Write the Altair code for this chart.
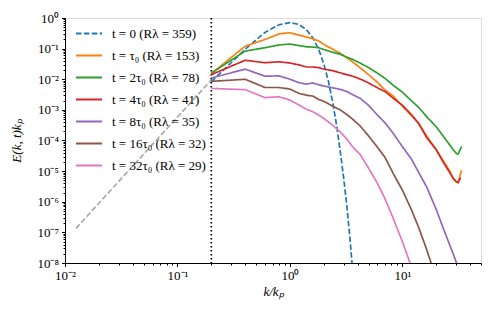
import altair as alt
import pandas as pd

# ---- data (log10 of E(k,t)k_p) ----
labels = [
    "t = 0 (Rλ = 359)",
    "t = τ₀ (Rλ = 153)",
    "t = 2τ₀ (Rλ = 78)",
    "t = 4τ₀ (Rλ = 41)",
    "t = 8τ₀ (Rλ = 35)",
    "t = 16τ₀ (Rλ = 32)",
    "t = 32τ₀ (Rλ = 29)",
]
colors = ["#1f77b4", "#ff7f0e", "#2ca02c", "#d62728", "#9467bd", "#8c564b", "#e377c2"]

k0 = [0.2, 0.4, 0.6, 0.8, 1.0, 1.2, 1.4, 1.6, 1.8, 2.0, 2.2, 2.4, 2.6, 2.8, 3.0, 3.2, 3.4, 3.6, 3.7]
logE0 = [-2.08, -1.02, -0.47, -0.22, -0.15, -0.21, -0.38, -0.65, -1.02, -1.5, -2.07, -2.75,
         -3.5, -4.35, -5.2, -6.1, -7.1, -8.2, -8.6]

k_common = [0.2, 0.4, 0.6, 0.8, 1.0, 1.2, 1.4, 1.6, 1.8, 2.0, 2.4, 2.8, 3.2, 3.6, 4.2,
            5, 6, 7, 8.3, 10, 12, 14, 16.4, 20, 23, 26.4, 28.3, 30.3, 31.3, 33.6]
logE1 = [-1.82, -0.92, -0.70, -0.52, -0.48, -0.56, -0.62, -0.68, -0.75, -0.86, -1.02, -1.15,
         -1.30, -1.43, -1.62, -1.85, -2.10, -2.35, -2.55, -2.88, -3.18, -3.45, -3.85, -4.30,
         -4.65, -5.0, -5.24, -5.36, -5.38, -4.97]
logE2 = [-1.80, -1.08, -0.97, -0.88, -0.85, -0.90, -0.94, -0.95, -0.97, -1.03, -1.12, -1.18,
         -1.28, -1.35, -1.47, -1.62, -1.80, -1.97, -2.20, -2.42, -2.70, -2.92, -3.22, -3.55,
         -3.85, -4.15, -4.30, -4.43, -4.44, -4.20]
k4 = [0.2, 0.4, 0.6, 0.8, 1.0, 1.2, 1.4, 1.6, 1.8, 2.0, 2.4, 2.8, 3.2, 3.6, 4.2,
      5, 6, 7, 8.3, 10, 12, 14, 16.4, 20, 23, 26.4, 28.3, 30.3, 31.3, 33.0]
logE4 = [-1.85, -1.38, -1.46, -1.43, -1.47, -1.53, -1.60, -1.60, -1.62, -1.67, -1.72, -1.79,
         -1.85, -1.90, -1.99, -2.12, -2.28, -2.40, -2.62, -2.85, -3.15, -3.45, -3.90, -4.30,
         -4.70, -5.05, -5.24, -5.35, -5.37, -5.21]
k8 = [0.2, 0.4, 0.6, 0.8, 1.0, 1.2, 1.4, 1.6, 1.8, 2.0, 2.4, 2.8, 3.2, 3.6, 4.2,
      5, 6, 7, 8.3, 10, 12, 14, 16.4, 20, 23, 26.4, 28.3, 30.3, 31.3]
logE8 = [-1.96, -1.67, -1.90, -1.89, -2.00, -2.11, -2.16, -2.12, -2.18, -2.22, -2.28, -2.33,
         -2.40, -2.50, -2.62, -2.85, -3.17, -3.42, -3.77, -4.20, -4.60, -5.05, -5.51, -6.25,
         -6.85, -7.42, -7.70, -8.0, -8.2]
k16 = [0.2, 0.4, 0.6, 0.8, 1.0, 1.2, 1.4, 1.6, 1.8, 2.0, 2.4, 2.8, 3.2, 3.6, 4.2,
       5, 6, 7, 8.3, 10, 12, 14, 16.4, 18, 19]
logE16 = [-2.07, -2.0, -2.27, -2.27, -2.32, -2.46, -2.52, -2.55, -2.66, -2.72, -2.88, -3.0,
          -3.15, -3.30, -3.52, -3.85, -4.22, -4.55, -5.08, -5.62, -6.25, -6.85, -7.55, -8.0, -8.3]
k32 = [0.2, 0.4, 0.6, 0.8, 1.0, 1.2, 1.4, 1.6, 1.8, 2.0, 2.4, 2.8, 3.2, 3.6, 4.2,
       5, 6, 7, 8.3, 10, 11.7, 12.3]
logE32 = [-2.30, -2.34, -2.60, -2.57, -2.68, -2.84, -2.98, -3.06, -3.17, -3.28, -3.50, -3.72,
          -3.95, -4.20, -4.45, -4.90, -5.40, -5.90, -6.55, -7.30, -8.0, -8.3]

slope_k = [0.0125, 0.2]
slope_E = [1.35e-7, 9.5e-3]
k_cut = [0.2]

curves = [(k0, logE0), (k_common, logE1), (k_common, logE2), (k4, logE4),
          (k8, logE8), (k16, logE16), (k32, logE32)]

rows = []
for lab, (ks, les) in zip(labels, curves):
    for kk, le in zip(ks, les):
        rows.append({"k": kk, "E": 10 ** le, "series": lab})
df = pd.DataFrame(rows)

# axis tick values (majors and minors)
def ticks(lo_exp, hi_exp, hi_val):
    vals = []
    for e in range(lo_exp, hi_exp + 1):
        for m in range(1, 10):
            v = m * 10.0 ** e
            if v <= hi_val * 1.0001:
                vals.append(v)
    return vals

xvals = ticks(-2, 1, 50)
yvals = ticks(-8, 0, 1)

major_test = "abs(log(datum.value)/LN10 - round(log(datum.value)/LN10)) < 0.001"
x_label_expr = (major_test + " ? ['10⁻²','10⁻¹','10⁰','10¹'][round(log(datum.value)/LN10)+2] : ''")
y_label_expr = (major_test + " ? ['10⁻⁸','10⁻⁷','10⁻⁶','10⁻⁵','10⁻⁴','10⁻³','10⁻²','10⁻¹','10⁰']"
                "[round(log(datum.value)/LN10)+8] : ''")

FONT = "Liberation Serif"
FS = 13

xscale = alt.Scale(type="log", domain=[0.01, 50], nice=False)
yscale = alt.Scale(type="log", domain=[1e-8, 1], nice=False)

tick_size = {"condition": {"test": major_test, "value": 3.5}, "value": 2}

xaxis = alt.Axis(values=xvals, labelExpr=x_label_expr, title="k/kₚ", grid=False,
                 tickSize=tick_size, tickColor="black", domainColor="black",
                 labelOverlap=False, labelFont=FONT, labelFontSize=FS, labelColor="black",
                 titleFont=FONT, titleFontSize=FS, titleFontWeight="normal",
                 titleFontStyle="italic", titleColor="black", labelPadding=3, titlePadding=3,
                 labelFlush=False)
yaxis = alt.Axis(values=yvals, labelExpr=y_label_expr, title="E(k, t)kₚ", grid=False,
                 tickSize=tick_size, tickColor="black", domainColor="black",
                 labelOverlap=False, labelFont=FONT, labelFontSize=FS, labelColor="black",
                 titleFont=FONT, titleFontSize=FS, titleFontWeight="normal",
                 titleFontStyle="italic", titleColor="black", labelPadding=3, titlePadding=13,
                 labelFlush=False)

slope_df = pd.DataFrame({"k": slope_k, "E": slope_E})
cut_df = pd.DataFrame({"k": k_cut})

slope = alt.Chart(slope_df).mark_line(color="#aaaaaa", strokeWidth=1.7,
                                      strokeDash=[5.5, 2.4], clip=True).encode(
    x=alt.X("k:Q", scale=xscale, axis=xaxis),
    y=alt.Y("E:Q", scale=yscale, axis=yaxis),
)

cut = alt.Chart(cut_df).mark_rule(color="black", strokeWidth=1.7,
                                  strokeDash=[1.5, 2.5]).encode(x="k:Q")

lines = alt.Chart(df).mark_line(strokeWidth=1.7, clip=True).encode(
    x="k:Q",
    y="E:Q",
    color=alt.Color("series:N", sort=labels,
                    scale=alt.Scale(domain=labels, range=colors),
                    legend=alt.Legend(title=None, orient="none", legendX=10, legendY=1.5,
                                      symbolType="stroke", symbolSize=676,
                                      symbolStrokeWidth=2, labelFont=FONT,
                                      labelFontSize=FS, labelColor="black",
                                      rowPadding=1.0, labelOffset=9, padding=0,
                                      labelLimit=300)),
    strokeDash=alt.StrokeDash("series:N", sort=labels,
                              scale=alt.Scale(domain=labels,
                                              range=[[5.5, 2.4]] + [[1, 0]] * 6)),
    order=alt.Order("k:Q"),
)

chart = alt.layer(slope, cut, lines).properties(
    width=416, height=245,
    autosize=alt.AutoSizeParams(type="none"),
    padding={"left": 57, "top": 10, "right": 9, "bottom": 46},
).configure_view(stroke="black", strokeWidth=1).configure(background="white")

chart.save("out.html", embed_options={"renderer": "svg", "actions": False})
